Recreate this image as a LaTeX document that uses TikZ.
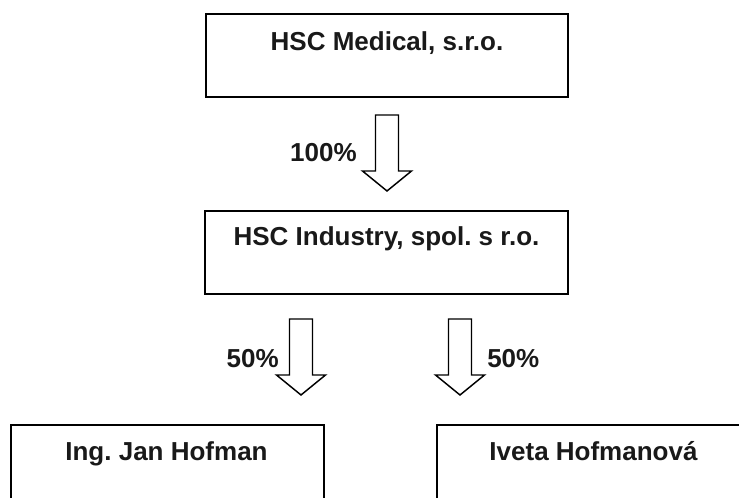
\documentclass[tikz,border=0pt]{standalone}
\usepackage{fontspec}
\setmainfont{Liberation Sans}
\usetikzlibrary{calc}
\frenchspacing
\begin{document}
\begin{tikzpicture}[x=0.75pt,y=-0.75pt,
  boxline/.style={draw=black, line width=1.5pt, inner sep=0pt},
  txt/.style={font=\fontsize{19.5pt}{23pt}\selectfont\bfseries\frenchspacing, text=black!90, inner sep=0pt},
  arrowline/.style={draw=black, line width=1.1pt, line join=miter, fill=white}]
\useasboundingbox (0,0) rectangle (739,498);
\clip (0,0) rectangle (739,498);
\tikzset{blockarrow/.pic={\draw[arrowline] (-11.5,0) -- (11.5,0) -- (11.5,56) -- (24.5,56) -- (0,76) -- (-24.5,56) -- (-11.5,56) -- cycle;}}
% boxes
\node[boxline, minimum width=271.5pt, minimum height=62.25pt] (medical) at (387,55.5) {};
\node[boxline, minimum width=272.25pt, minimum height=62.25pt] (industry) at (386.5,252.5) {};
\node[boxline, minimum width=234.75pt, minimum height=86.25pt] (jan) at (167.5,482.5) {};
\node[boxline, minimum width=302.25pt, minimum height=86.25pt] (iveta) at (638.5,482.5) {};
% texts
\node[txt, anchor=base] (tmedical) at ($(medical.north)+(0,38)$) {HSC Medical, s.r.o.};
\node[txt, anchor=base] (tindustry) at ($(industry.north)+(0,36)$) {HSC Industry, spol. s r.o.};
\node[txt, anchor=base] (tjan) at (166.5,461) {Ing. Jan Hofman};
\node[txt, anchor=base] (tiveta) at (593.5,461) {Iveta Hofmanová};
% block arrows
\coordinate (a1) at (387,115);
\coordinate (a2) at (301,319);
\coordinate (a3) at (460,319);
\pic at (a1) {blockarrow};
\pic at (a2) {blockarrow};
\pic at (a3) {blockarrow};
% labels
\node[txt, anchor=base east] (l1) at ($(a1)+(-30,47)$) {100\%};
\node[txt, anchor=base east] (l2) at ($(a2)+(-22,49)$) {50\%};
\node[txt, anchor=base west] (l3) at ($(a3)+(27,49)$) {50\%};
\end{tikzpicture}
\end{document}
